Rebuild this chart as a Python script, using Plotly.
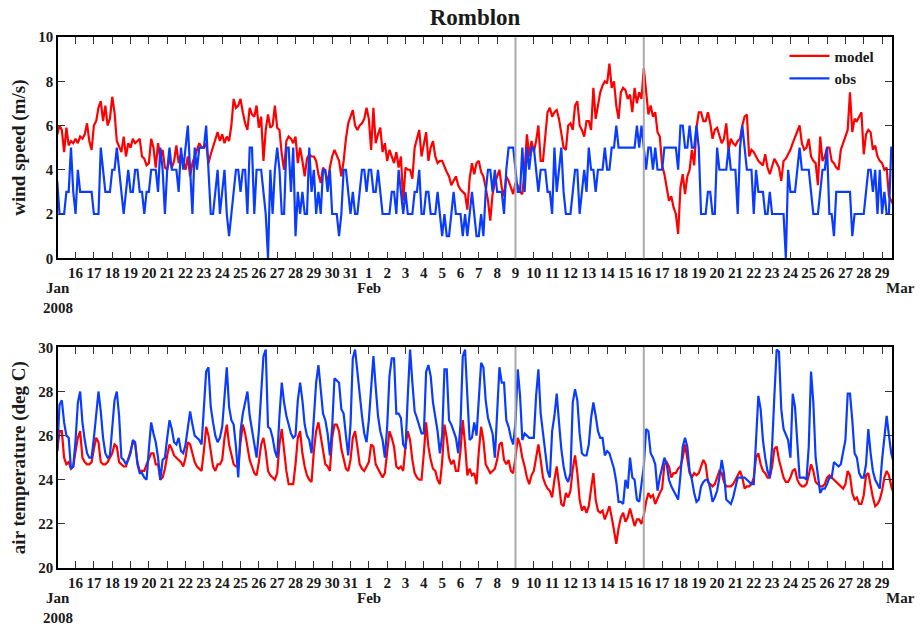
import pandas as pd
import plotly.graph_objects as go
from plotly.subplots import make_subplots

# Romblon station, 3-hourly samples starting 2008-01-15 00:00
START = "2008-01-15 00:00"
STEP = "3h"

# wind speed (m/s), one row per day
wind_model = [
    5.6, 6.0, 5.8, 4.8, 5.9, 5.1, 5.3, 5.2,   # Jan 15
    5.4, 5.2, 5.5, 5.4, 5.6, 6.1, 5.3, 4.9,
    6.0, 6.2, 6.8, 7.1, 6.2, 6.9, 6.0, 6.3,
    7.3, 6.6, 5.3, 5.0, 4.8, 5.5, 4.6, 5.2,
    5.0, 5.4, 5.2, 5.3, 5.4, 4.6, 4.5, 4.2,
    4.3, 5.4, 5.0, 4.1, 5.2, 4.5, 4.9, 4.1,   # Jan 20
    4.0, 4.5, 4.1, 4.4, 5.1, 4.3, 4.7, 4.4,
    4.0, 4.6, 3.7, 4.3, 4.6, 5.0, 5.2, 5.0,
    5.0, 5.2, 4.3, 4.7, 5.0, 5.4, 5.7, 5.3,
    5.6, 5.2, 5.5, 5.3, 6.0, 7.2, 6.8, 6.9,
    7.2, 6.6, 6.1, 5.8, 6.8, 6.5, 6.4, 6.9,   # Jan 25
    5.9, 6.4, 4.4, 5.8, 6.5, 5.9, 6.0, 6.9,
    5.9, 5.8, 4.7, 4.0, 5.3, 5.5, 5.4, 5.2,
    5.5, 4.3, 5.0, 4.4, 3.7, 4.5, 4.7, 4.6,
    4.6, 4.4, 3.8, 3.4, 4.1, 3.9, 3.4, 4.1,
    4.6, 4.9, 4.6, 4.4, 3.7, 4.4, 5.4, 6.1,   # Jan 30
    6.4, 6.7, 6.0, 5.8, 6.0, 6.1, 6.3, 6.8,
    6.3, 4.9, 6.8, 5.2, 5.6, 5.9, 4.8, 5.2,   # Feb 1
    4.4, 4.9, 4.6, 4.3, 4.8, 4.1, 4.6, 2.6,
    4.1, 4.0, 4.0, 3.6, 5.0, 5.4, 5.8, 4.6,
    5.2, 5.7, 4.4, 5.0, 5.3, 4.6, 4.3, 4.4,
    4.4, 4.1, 3.9, 3.7, 3.3, 3.5, 3.7, 3.3,   # Feb 5
    3.1, 3.0, 2.9, 2.2, 3.6, 4.3, 3.8, 4.3,
    4.4, 3.9, 3.7, 3.2, 2.6, 1.7, 2.9, 3.4,
    3.7, 4.0, 3.2, 2.8, 3.7, 3.5, 3.2, 2.9,
    3.4, 3.3, 3.0, 2.9, 4.0, 5.6, 4.6, 5.3,
    4.8, 5.3, 6.0, 4.4, 4.4, 5.5, 6.6, 6.8,   # Feb 10
    6.4, 6.6, 6.7, 6.3, 5.6, 5.0, 4.9, 6.0,
    6.1, 5.8, 6.9, 7.1, 6.0, 5.8, 5.5, 6.2,
    6.2, 5.8, 7.7, 6.3, 6.9, 7.5, 7.8, 8.0,
    7.9, 8.8, 7.7, 8.0, 6.9, 6.3, 7.5, 7.7,
    7.6, 7.2, 7.4, 6.6, 7.7, 7.0, 7.5, 7.2,   # Feb 15
    8.6, 7.6, 6.5, 6.9, 6.4, 6.6, 5.7, 5.5,
    4.2, 3.8, 3.1, 2.6, 2.8, 2.3, 2.0, 1.1,
    3.2, 3.8, 2.9, 3.7, 4.0, 4.9, 4.2, 5.9,
    6.6, 6.6, 6.2, 6.2, 6.6, 6.1, 5.4, 5.8,
    5.9, 5.6, 5.2, 5.4, 6.1, 4.9, 5.4, 5.2,   # Feb 20
    5.1, 5.3, 5.4, 6.0, 6.4, 6.5, 4.6, 4.9,
    4.8, 4.6, 4.4, 4.3, 4.2, 4.7, 4.1, 3.8,
    4.2, 4.5, 4.3, 4.1, 3.5, 4.4, 4.5, 4.7,
    4.9, 5.2, 5.5, 5.8, 6.0, 5.2, 4.9, 5.0,
    5.4, 4.6, 4.4, 4.3, 3.3, 5.5, 4.4, 4.6,   # Feb 25
    5.0, 5.0, 4.4, 4.3, 4.1, 4.0, 4.9, 5.2,
    5.5, 5.8, 7.5, 5.7, 6.3, 6.2, 6.4, 6.6,
    4.7, 5.6, 5.8, 5.7, 4.9, 5.1, 4.6, 4.4,
    4.3, 4.0, 4.1, 2.8, 2.6, 2.4,             # Feb 29
]

wind_obs = [
    3.5, 2, 2, 2, 3, 3, 5, 3,   # Jan 15
    2, 4, 3, 3, 3, 3, 3, 3,
    2, 2, 2, 5, 4, 3, 3, 3,
    4, 4, 5, 4, 3, 2, 3, 4,
    3, 3, 4, 4, 3, 3, 2, 3,
    3, 4, 4, 4, 3, 5, 4, 2,     # Jan 20
    4, 5, 4, 4, 4, 3, 5, 4,
    5, 6, 4, 2, 5, 4, 5, 5,
    5, 6, 4, 2, 2, 3, 4, 2,
    3, 4, 2, 1, 2, 3, 4, 4,
    3, 4, 4, 2, 5, 5, 2, 4,     # Jan 25
    4, 4, 3, 2, 0, 4, 2, 4,
    5, 4, 2, 2, 5, 5, 3, 5,
    1, 3, 2, 3, 2, 2, 5, 3,
    4, 2, 3, 2, 4, 4, 3, 4,
    2, 2, 2, 1, 2, 4, 4, 3,     # Jan 30
    2, 3, 2, 2, 3, 4, 4, 3,
    4, 4, 3, 3, 4, 3, 2, 2,     # Feb 1
    2, 2, 3, 3, 2, 4, 3, 2,
    3, 2, 2, 2, 3, 3, 4, 2,
    2, 3, 3, 2, 2, 2, 3, 2,
    1, 2, 1, 1, 2, 3, 2, 2,     # Feb 5
    2, 1, 2, 1, 2, 3, 2, 1,
    1, 2, 1, 3, 4, 4, 3, 4,
    3, 3, 3, 2, 4, 5, 5, 5,
    4, 3, 3, 5, 3, 5, 4, 5,
    5, 4, 3, 4, 4, 4, 3, 3,     # Feb 10
    2, 5, 3, 4, 5, 3, 2, 2,
    2, 3, 4, 4, 2, 3, 4, 3,
    5, 4, 4, 3, 4, 4, 4, 5,
    4, 4, 5, 5, 6, 5, 5, 5,
    5, 5, 5, 5, 5, 6, 5, 6,     # Feb 15
    5, 4, 5, 5, 4, 5, 4, 4,
    4, 5, 5, 5, 5, 5, 5, 4,
    6, 6, 5, 5, 6, 5, 5, 6,
    5, 2, 2, 2, 3, 3, 2, 2,
    5, 4, 4, 4, 4, 5, 4, 4,     # Feb 20
    4, 2, 5, 6, 5, 4, 4, 4,
    2, 4, 3, 3, 3, 2, 2, 3,
    2, 2, 2, 2, 2, 2, 0, 4,
    3, 3, 3, 4, 5, 4, 4, 4,
    4, 3, 2, 2, 2, 3, 4, 4,     # Feb 25
    5, 2, 2, 1, 3, 3, 3, 3,
    3, 3, 3, 1, 2, 2, 2, 2,
    2, 3, 4, 4, 3, 4, 2, 4,
    2, 3, 2, 2, 5, 5,           # Feb 29
]

# air temperature (deg C), one row per day
temp_model = [
    25.3, 26.2, 26.2, 25.0, 24.7, 24.8, 24.5, 24.6,   # Jan 15
    25.3, 25.9, 26.2, 25.0, 24.8, 24.7, 24.7, 24.8,
    25.4, 25.9, 25.7, 24.8, 24.7, 24.7, 24.8, 25.0,
    25.2, 25.6, 25.5, 24.8, 24.7, 24.6, 24.6, 24.9,
    25.3, 25.7, 25.6, 24.8, 24.4, 24.4, 24.4, 24.7,
    25.0, 25.2, 25.2, 24.7, 24.7, 24.0, 24.1, 24.5,   # Jan 20
    25.1, 25.6, 25.4, 25.1, 25.0, 24.9, 24.8, 24.6,
    25.0, 25.7, 25.6, 25.2, 24.8, 24.6, 24.5, 24.4,
    25.3, 26.4, 26.0, 25.2, 24.6, 24.4, 24.7, 24.7,
    24.9, 25.9, 26.5, 25.6, 25.1, 24.7, 24.6, 24.6,
    25.7, 26.5, 26.1, 25.5, 24.9, 24.6, 24.3, 24.2,   # Jan 25
    24.8, 25.6, 25.9, 25.3, 24.4, 24.2, 24.1, 24.0,
    24.3, 25.6, 26.3, 25.3, 24.4, 23.8, 23.8, 23.8,
    24.7, 25.9, 26.2, 25.2, 24.6, 24.2, 24.0, 23.9,
    25.3, 26.2, 26.6, 25.9, 25.3, 24.7, 24.6, 24.4,
    25.9, 26.5, 26.5, 26.2, 25.4, 24.9, 24.5, 24.4,   # Jan 30
    24.9, 25.9, 26.2, 25.5, 24.7, 24.5, 24.4, 24.6,
    24.8, 25.6, 25.5, 24.7, 24.5, 24.3, 24.1, 24.3,   # Feb 1
    25.4, 26.2, 25.9, 25.5, 24.6, 24.5, 24.6, 24.4,
    25.5, 26.2, 25.8, 24.9, 24.3, 24.1, 24.0, 24.0,
    25.2, 26.6, 25.5, 24.9, 24.5, 24.4, 24.0, 23.8,
    24.8, 26.5, 25.9, 25.0, 24.7, 24.9, 24.4, 24.4,   # Feb 5
    25.3, 26.7, 25.6, 24.2, 24.5, 24.2, 24.3, 23.8,
    25.3, 26.4, 25.8, 24.7, 24.5, 24.3, 24.4, 24.5,
    24.9, 25.6, 25.7, 24.9, 24.7, 24.9, 24.4, 24.3,
    25.0, 25.9, 25.6, 25.0, 24.6, 24.1, 23.8, 24.2,
    24.4, 25.1, 25.6, 24.9, 24.1, 23.8, 23.6, 23.5,   # Feb 10
    23.2, 24.0, 24.6, 23.8, 22.9, 22.8, 23.4, 23.2,
    23.5, 24.5, 25.1, 24.3, 23.1, 22.6, 22.8, 22.5,
    22.8, 23.6, 24.3, 23.1, 22.6, 22.5, 22.6, 22.2,
    22.5, 22.8, 22.3, 21.6, 21.1, 21.8, 22.3, 22.5,
    22.1, 22.3, 22.7, 22.3, 21.9, 22.2, 22.2, 22.0,   # Feb 15
    22.4, 23.0, 23.4, 23.2, 23.3, 22.9, 23.2, 23.4,
    23.6, 24.7, 24.8, 24.6, 24.1, 24.3, 24.3, 24.5,
    24.6, 25.0, 25.6, 25.0, 24.3, 24.1, 24.3, 24.2,
    24.3, 24.6, 24.9, 24.7, 23.9, 23.8, 23.7, 23.8,
    24.1, 24.4, 24.3, 23.9, 23.7, 23.7, 23.7, 23.8,   # Feb 20
    24.0, 24.2, 24.4, 24.1, 23.6, 23.7, 23.7, 23.8,
    24.1, 25.0, 25.2, 24.7, 24.4, 24.3, 24.1, 24.1,
    24.6, 25.4, 25.5, 24.9, 24.5, 24.1, 23.9, 23.9,
    24.1, 24.4, 24.5, 24.0, 23.8, 23.7, 23.7, 23.8,
    24.2, 24.7, 24.4, 23.9, 23.8, 23.7, 23.7, 23.8,   # Feb 25
    24.1, 24.2, 24.1, 24.0, 23.9, 23.8, 23.7, 23.6,
    23.8, 24.4, 24.2, 23.4, 23.1, 23.2, 22.9, 22.9,
    23.3, 24.2, 24.3, 23.7, 23.2, 22.8, 22.9, 23.1,
    23.5, 24.1, 24.4, 24.2, 23.7, 23.4,               # Feb 29
]

temp_obs = [
    25.3, 27.4, 27.6, 26.6, 26.0, 25.9, 24.5, 24.6,   # Jan 15
    25.8, 27.5, 28.0, 26.6, 25.8, 25.2, 25.0, 25.0,
    25.9, 27.0, 28.0, 27.1, 25.9, 25.2, 25.0, 25.1,
    26.5, 27.6, 28.0, 26.9, 25.0, 24.9, 24.7, 24.9,
    25.2, 25.8, 25.7, 24.7, 24.3, 24.3, 24.1, 24.0,
    25.4, 26.6, 26.1, 25.7, 25.0, 24.0, 24.9, 25.0,   # Jan 20
    25.9, 26.7, 26.3, 25.7, 25.6, 25.9, 25.3, 25.2,
    25.6, 26.4, 27.1, 26.5, 26.0, 25.9, 25.8, 25.6,
    27.2, 28.9, 29.1, 27.3, 26.6, 26.0, 25.7, 25.9,
    26.4, 28.0, 29.1, 27.3, 26.7, 26.5, 25.5, 24.1,
    26.2, 27.0, 27.5, 28.0, 26.9, 26.3, 25.6, 25.0,   # Jan 25
    26.2, 28.2, 29.6, 29.9, 26.4, 26.3, 25.9, 25.3,
    25.0, 26.9, 28.4, 27.5, 26.9, 26.5, 26.1, 25.9,
    26.0, 27.6, 28.4, 27.6, 26.5, 26.0, 25.8, 25.2,
    27.0, 28.4, 29.2, 28.0, 27.0, 26.7, 26.1, 25.1,
    26.4, 28.6, 28.5, 28.4, 27.2, 27.0, 26.0, 25.1,   # Jan 30
    26.5, 29.5, 29.9, 28.9, 27.6, 26.9, 26.1, 25.7,
    26.7, 28.4, 29.6, 28.2, 26.9, 26.2, 25.8, 25.0,   # Feb 1
    26.4, 28.7, 29.5, 29.5, 27.0, 27.0, 26.8, 25.6,
    25.4, 27.8, 29.9, 28.4, 27.1, 26.8, 26.5, 26.1,
    26.1, 28.9, 29.2, 28.7, 27.5, 26.9, 26.2, 25.2,
    26.0, 29.0, 29.0, 26.7, 26.5, 26.2, 25.9, 25.2,   # Feb 5
    26.5, 29.6, 29.9, 27.8, 25.8, 25.9, 26.6, 26.0,
    27.5, 29.3, 29.1, 27.6, 26.8, 26.4, 26.1, 25.0,
    27.4, 29.1, 28.4, 28.4, 26.7, 26.4, 25.9, 25.6,
    26.6, 29.0, 27.8, 25.8, 26.1, 26.0, 25.9, 25.9,
    25.9, 27.8, 29.0, 27.0, 26.2, 25.2, 24.4, 24.1,   # Feb 10
    26.2, 26.9, 27.9, 26.6, 25.4, 24.6, 24.1, 23.9,
    24.3, 27.5, 28.1, 27.6, 26.1, 25.2, 25.1, 25.1,
    25.6, 26.8, 27.5, 26.9, 26.2, 25.9, 25.9, 25.1,
    25.3, 25.2, 24.8, 24.5, 23.9, 23.0, 23.0, 22.9,
    24.0, 23.6, 25.0, 24.1, 24.0, 23.1, 23.0, 23.8,   # Feb 15
    24.6, 26.3, 26.2, 25.2, 25.0, 24.7, 23.5, 24.1,
    24.6, 25.0, 24.7, 24.0, 23.7, 23.5, 23.3, 23.1,
    24.2, 25.5, 25.9, 25.5, 24.4, 24.0, 23.4, 23.0,
    23.1, 23.7, 23.9, 24.0, 24.0, 23.6, 23.0, 23.2,
    23.5, 24.1, 24.9, 24.3, 23.1, 23.0, 22.9, 23.2,   # Feb 20
    23.6, 24.1, 24.1, 24.1, 24.1, 24.0, 23.9, 23.8,
    23.8, 25.9, 27.8, 27.2, 25.8, 25.0, 24.4, 24.1,
    25.5, 27.8, 29.9, 29.8, 27.2, 26.3, 26.0, 25.8,
    25.0, 27.9, 27.3, 25.4, 24.1, 24.1, 24.1, 24.0,
    25.5, 28.9, 27.5, 25.0, 24.3, 23.4, 23.6, 23.6,   # Feb 25
    23.8, 24.1, 24.1, 24.8, 24.7, 24.6, 24.7, 25.2,
    25.8, 27.9, 27.9, 26.7, 25.2, 25.0, 24.3, 24.1,
    24.1, 24.7, 26.3, 25.2, 24.4, 24.0, 23.8, 23.6,
    24.9, 25.8, 26.9, 26.0, 25.2, 24.8,               # Feb 29
]

# axis window and day ticks
X_RANGE = ["2008-01-15 01:00", "2008-02-29 13:00"]
tick_days = pd.date_range("2008-01-16", "2008-02-29", freq="D")
tick_labels = [str(d.day) for d in tick_days]
month_labels = [("2008-01-15 01:00", "Jan", "2008"),
                ("2008-02-01", "Feb", ""),
                ("2008-03-01", "Mar", "")]
marker_days = ["2008-02-09", "2008-02-16"]

RED = "#ff0000"
BLUE = "#0a3cff"
FONT = "Liberation Serif"
INK = "#1a1a1a"


def stamps(values):
    return pd.date_range(START, periods=len(values), freq=STEP)


def domain_frac(day):
    """Position of a date as a fraction of the x-axis window."""
    x0, x1 = (pd.Timestamp(v) for v in X_RANGE)
    return (pd.Timestamp(day) - x0) / (x1 - x0)


fig = make_subplots(rows=2, cols=1)

fig.add_trace(go.Scatter(x=stamps(wind_model), y=wind_model, mode="lines",
                         name="model", line=dict(color=RED, width=2.2)), row=1, col=1)
fig.add_trace(go.Scatter(x=stamps(wind_obs), y=wind_obs, mode="lines",
                         name="obs", line=dict(color=BLUE, width=2.2)), row=1, col=1)
fig.add_trace(go.Scatter(x=stamps(temp_model), y=temp_model, mode="lines",
                         name="model", showlegend=False,
                         line=dict(color=RED, width=2.2)), row=2, col=1)
fig.add_trace(go.Scatter(x=stamps(temp_obs), y=temp_obs, mode="lines",
                         name="obs", showlegend=False,
                         line=dict(color=BLUE, width=2.2)), row=2, col=1)

tickfont = dict(family=FONT, size=15, color=INK, weight="bold")
titlefont = dict(family=FONT, size=19, color=INK, weight="bold")
xcommon = dict(range=X_RANGE, tickvals=tick_days, ticktext=tick_labels,
               ticks="inside", ticklen=7, tickwidth=1, tickcolor="#333",
               showline=True, linecolor="black", linewidth=1.5, mirror="ticks",
               showgrid=False, zeroline=False, tickfont=tickfont)
ycommon = dict(ticks="inside", ticklen=7, tickwidth=1, tickcolor="#333",
               showline=True, linecolor="black", linewidth=1.5, mirror="ticks",
               showgrid=False, zeroline=False, tickfont=tickfont)

fig.update_xaxes(**xcommon)
fig.update_yaxes(**ycommon)
fig.update_layout(
    yaxis=dict(domain=[0.5833, 1.0], range=[0, 10], dtick=2,
               title=dict(text="wind speed (m/s)", standoff=8, font=titlefont)),
    yaxis2=dict(domain=[0.0, 0.4155], range=[20, 30], dtick=2,
                title=dict(text="air temperature (deg C)", standoff=8,
                           font=titlefont)),
)

# reference days marked in both panels
for xref, yref in (("x", "y domain"), ("x2", "y2 domain")):
    for day in marker_days:
        fig.add_shape(type="line", xref=xref, yref=yref, x0=day, x1=day,
                      y0=0, y1=1, line=dict(color="#aaaaaa", width=2),
                      layer="above")

# month / year labels under the day ticks
for xref, yref in (("x domain", "y domain"), ("x2 domain", "y2 domain")):
    for day, month, year in month_labels:
        fx = domain_frac(day)
        fig.add_annotation(x=fx, y=-0.135, xref=xref, yref=yref, text=month,
                           showarrow=False, xanchor="center", yanchor="middle",
                           font=tickfont)
        if year:
            fig.add_annotation(x=fx, y=-0.227, xref=xref, yref=yref, text=year,
                               showarrow=False, xanchor="center", yanchor="middle",
                               font=tickfont)

fig.update_layout(
    width=924, height=627,
    margin=dict(l=58, r=32, t=37, b=59),
    paper_bgcolor="white", plot_bgcolor="white",
    font=dict(family=FONT, size=15, color=INK, weight="bold"),
    title=dict(text="Romblon", x=0.5, xref="paper", y=1 - 17 / 627,
               yref="container", xanchor="center", yanchor="middle",
               font=dict(family=FONT, size=23, color=INK, weight="bold")),
    legend=dict(x=0.985, xanchor="right", y=0.995, yanchor="top",
                bgcolor="rgba(0,0,0,0)", font=dict(family=FONT, size=15,
                                                   color=INK, weight="bold"),
                tracegroupgap=0, itemwidth=40),
    showlegend=True,
)

fig.write_html("out.html")
